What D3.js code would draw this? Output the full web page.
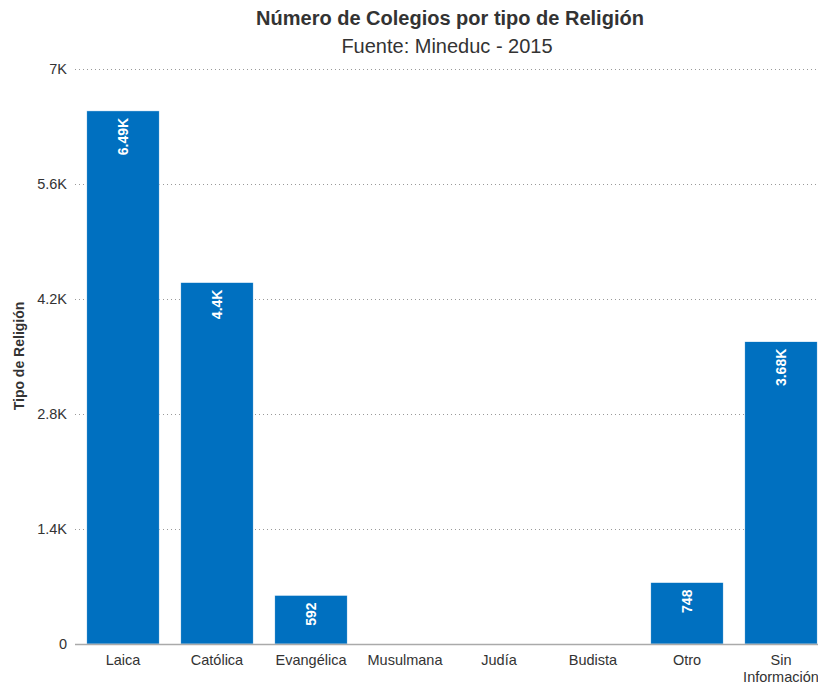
<!DOCTYPE html>
<html>
<head>
<meta charset="utf-8">
<script src="https://cdn.jsdelivr.net/npm/d3@7"></script>
<style>
  body { margin: 0; background: #fff; }
  text { font-family: "Liberation Sans", Arial, Helvetica, sans-serif; }
</style>
</head>
<body>
<div class="container"></div>
<script>
const categories = ["Laica", "Católica", "Evangélica", "Musulmana", "Judía", "Budista", "Otro", "Sin Información"];
const values = [6490, 4400, 592, 0, 0, 0, 748, 3680];
const yTicks = [0, 1400, 2800, 4200, 5600, 7000];
const yTickLabels = ["0", "1.4K", "2.8K", "4.2K", "5.6K", "7K"];

const w = 818;
const h = 687;

const svg = d3.select(".container")
  .append("svg")
  .attr("width", w)
  .attr("height", h);

const x = d3.scaleBand()
  .domain(categories)
  .range([76, 828])
  .paddingInner(0.23)
  .paddingOuter(0.115);

const y = d3.scaleLinear()
  .domain([0, 7000])
  .range([644, 69]);

// title
svg.append("text")
  .attr("x", 450).attr("y", 25)
  .attr("text-anchor", "middle")
  .style("font-size", "20px").style("font-weight", "bold").style("fill", "#333")
  .text("Número de Colegios por tipo de Religión");

svg.append("text")
  .attr("x", 447).attr("y", 53)
  .attr("text-anchor", "middle")
  .style("font-size", "20px").style("fill", "#333")
  .text("Fuente: Mineduc - 2015");

// grid lines
svg.selectAll(".grid")
  .data(yTicks.filter(d => d > 0))
  .enter()
  .append("line")
  .attr("x1", 75).attr("x2", w)
  .attr("y1", d => y(d) + 0.5).attr("y2", d => y(d) + 0.5)
  .attr("stroke", "#999")
  .attr("stroke-width", 1)
  .attr("stroke-dasharray", "1,3");

// y tick labels
svg.selectAll(".ytick")
  .data(yTicks)
  .enter()
  .append("text")
  .attr("x", 67)
  .attr("y", d => y(d) + 5)
  .attr("text-anchor", "end")
  .style("font-size", "14.5px").style("fill", "#333")
  .text((d, i) => yTickLabels[i]);

// y title
svg.append("text")
  .attr("transform", "translate(24," + 356 + ") rotate(-90)")
  .attr("text-anchor", "middle")
  .style("font-size", "14px").style("font-weight", "bold").style("fill", "#333")
  .text("Tipo de Religión");

// bars
svg.selectAll(".bar")
  .data(values)
  .enter()
  .append("rect")
  .attr("x", (d, i) => x(categories[i]))
  .attr("y", d => y(d))
  .attr("width", x.bandwidth())
  .attr("height", d => y(0) - y(d))
  .attr("fill", "#0070c0")
  .attr("stroke", "#fff")
  .attr("stroke-width", 0.5);

// x axis line
svg.append("line")
  .attr("x1", 75).attr("x2", w)
  .attr("y1", 644.5).attr("y2", 644.5)
  .attr("stroke", "#aaa").attr("stroke-width", 1.5);

const fmt = d => d >= 1000 ? d3.format(".3~r")(d / 1000) + "K" : String(d);

// value labels
svg.selectAll(".vlabel")
  .data(values.map((v, i) => ({ v, c: categories[i] })).filter(d => d.v > 0))
  .enter()
  .append("text")
  .attr("transform", d => "translate(" + (x(d.c) + x.bandwidth() / 2 + 5) + "," + (y(d.v) + 7) + ") rotate(-90)")
  .attr("text-anchor", "end")
  .style("font-size", "14px").style("font-weight", "bold").style("fill", "#fff")
  .text(d => fmt(d.v));

// x labels
svg.selectAll(".xlabel")
  .data(categories)
  .enter()
  .append("text")
  .attr("x", d => x(d) + x.bandwidth() / 2)
  .attr("y", 665)
  .attr("text-anchor", "middle")
  .style("font-size", "14.5px").style("fill", "#333")
  .each(function (d) {
    const words = d === "Sin Información" ? ["Sin", "Información"] : [d];
    words.forEach((wd, j) => {
      d3.select(this).append("tspan")
        .attr("x", x(d) + x.bandwidth() / 2)
        .attr("dy", j === 0 ? 0 : 17)
        .text(wd);
    });
  });
</script>
</body>
</html>
